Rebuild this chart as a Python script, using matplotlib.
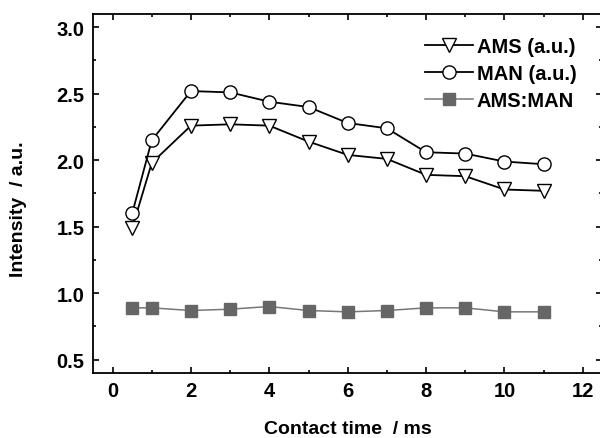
import matplotlib
matplotlib.use("Agg")
import matplotlib.pyplot as plt
from matplotlib.ticker import MultipleLocator

plt.rcParams["font.family"] = ["Liberation Sans", "DejaVu Sans"]

# 接触时间 (ms)
contact_time = [0.5, 1, 2, 3, 4, 5, 6, 7, 8, 9, 10, 11]
ams = [1.49, 1.98, 2.26, 2.27, 2.26, 2.14, 2.04, 2.01, 1.89, 1.88, 1.78, 1.77]
man = [1.60, 2.15, 2.52, 2.51, 2.44, 2.40, 2.28, 2.24, 2.06, 2.05, 1.99, 1.97]
ratio = [0.89, 0.89, 0.87, 0.88, 0.90, 0.87, 0.86, 0.87, 0.89, 0.89, 0.86, 0.86]

fig = plt.figure(figsize=(6.0, 4.39), dpi=100)
ax = fig.add_axes([0.155, 0.148, 0.849, 0.818])

ax.plot(contact_time, ams, color="black", lw=1.3, marker="v", ms=9.5,
        mfc="white", mec="black", mew=1.0, label="AMS (a.u.)")
ax.plot(contact_time, man, color="black", lw=1.3, marker="o", ms=9.5,
        mfc="white", mec="black", mew=1.0, label="MAN (a.u.)")
ax.plot(contact_time, ratio, color="#777777", lw=1.1, marker="s", ms=8,
        mfc="#666666", mec="#666666", label="AMS:MAN")

ax.set_xlim(-0.5, 12.5)
ax.set_ylim(0.4, 3.1)
ax.xaxis.set_major_locator(MultipleLocator(2))
ax.xaxis.set_minor_locator(MultipleLocator(1))
ax.yaxis.set_major_locator(MultipleLocator(0.5))
ax.yaxis.set_minor_locator(MultipleLocator(0.25))
ax.yaxis.set_major_formatter(plt.FormatStrFormatter("%.1f"))

ax.tick_params(which="both", direction="in", top=True, right=True, width=1.2)
ax.tick_params(which="major", length=4.5, labelsize=14.5, pad=6)
ax.tick_params(which="minor", length=2.5)
for lab in ax.get_xticklabels() + ax.get_yticklabels():
    lab.set_fontweight("bold")
for sp in ax.spines.values():
    sp.set_linewidth(1.3)

ax.set_xlabel("Contact time  / ms", fontsize=14, fontweight="bold", labelpad=14)
ax.set_ylabel("Intensity  / a.u.", fontsize=14, fontweight="bold")
ax.yaxis.set_label_coords(-0.13, 0.46)

leg = ax.legend(loc="upper right", bbox_to_anchor=(0.985, 0.985), frameon=False,
                handlelength=2.4, handletextpad=0.2, labelspacing=0.38,
                prop={"size": 14.5, "weight": "bold"})

fig.savefig("out.png", dpi=100)
